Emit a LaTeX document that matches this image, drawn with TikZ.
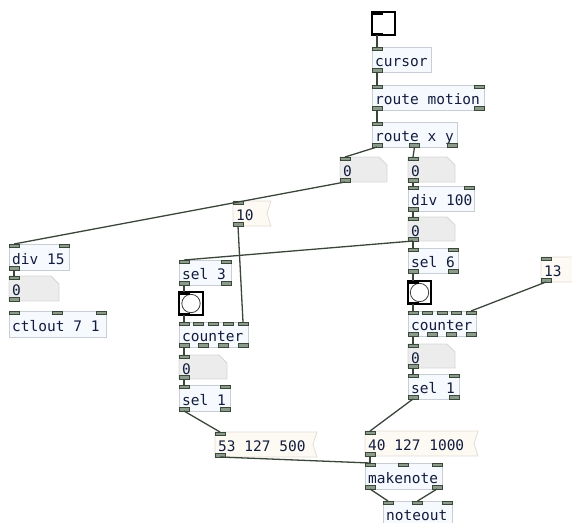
\documentclass[tikz,border=0pt]{standalone}
\usepackage{fontspec}
\newfontfamily\pdfont{DejaVu Sans Mono}
\definecolor{objfill}{RGB}{246,249,253}
\definecolor{objline}{RGB}{200,206,212}
\definecolor{numfill}{RGB}{236,236,236}
\definecolor{numline}{RGB}{214,214,214}
\definecolor{msgfill}{RGB}{253,249,243}
\definecolor{msgline}{RGB}{226,222,214}
\definecolor{portfill}{RGB}{140,154,140}
\definecolor{portline}{RGB}{58,72,58}
\definecolor{wirecol}{RGB}{58,70,58}
\definecolor{txtcol}{RGB}{18,28,62}
\tikzset{
  pdtext/.style={font=\pdfont\fontsize{14.5}{16}\selectfont, text=txtcol, inner sep=0pt},
  objbox/.style={draw=objline, fill=objfill, line width=0.8pt},
  numbox/.style={draw=numline, fill=numfill, line width=0.8pt},
  msgbox/.style={draw=msgline, fill=msgfill, line width=0.8pt},
  port/.style={draw=portline, fill=portfill, line width=0.7pt},
  iemport/.style={draw=black, fill=black, line width=0.3pt},
  iembox/.style={draw=black, fill=white, line width=1.8pt},
  bngcirc/.style={draw=black!75, line width=0.8pt},
  wire/.style={draw=wirecol, line width=1.3pt},
}
% ports: #1 style, #2 name, #3 x, #4 y, #5 w, #6 h, #7 nin, #8 nout, height given by \porth
\newcommand\porth{3.5}
\newcommand\pdports[8]{%
  \ifnum#7>0
    \foreach \k in {1,...,#7}{%
      \ifnum#7=1 \pgfmathsetmacro\px{#3}\else\pgfmathsetmacro\px{#3+(#5-10)*(\k-1)/(#7-1)}\fi
      \path[#1] (\px,#4) rectangle ++(10,\porth);
      \coordinate (#2-i\k) at ({\px+5},#4);
    }%
  \fi
  \ifnum#8>0
    \foreach \k in {1,...,#8}{%
      \ifnum#8=1 \pgfmathsetmacro\px{#3}\else\pgfmathsetmacro\px{#3+(#5-10)*(\k-1)/(#8-1)}\fi
      \path[#1] (\px,{#4+#6-\porth}) rectangle ++(10,\porth);
      \coordinate (#2-o\k) at ({\px+5},{#4+#6});
    }%
  \fi
}
% object box: name x y w h text nin nout
\newcommand\pdobj[8]{%
  \draw[objbox] (#2,#3) rectangle ++(#4,#5);
  \node[pdtext, anchor=base west] (#1) at ({#2+3},{#3+#5/2+7}) {#6};
  \pdports{port}{#1}{#2}{#3}{#4}{#5}{#7}{#8}
}
% number box: name x y w h text
\newcommand\pdnum[6]{%
  \draw[numbox] (#2,#3) -- ({#2+#4-8},#3) -- ({#2+#4},{#3+8}) -- ({#2+#4},{#3+#5}) -- (#2,{#3+#5}) -- cycle;
  \node[pdtext, anchor=base west] (#1) at ({#2+3},{#3+#5/2+7}) {#6};
  \pdports{port}{#1}{#2}{#3}{#4}{#5}{1}{1}
}
% message box: name x y w h text
\newcommand\pdmsg[6]{%
  \draw[msgbox] (#2,#3) -- ({#2+#4},#3) -- ({#2+#4-4},{#3+#5/2}) -- ({#2+#4},{#3+#5}) -- (#2,{#3+#5}) -- cycle;
  \node[pdtext, anchor=base west] (#1) at ({#2+3},{#3+#5/2+7}) {#6};
  \pdports{port}{#1}{#2}{#3}{#4}{#5}{1}{1}
}
% bang: name x y w h
\newcommand\pdbng[5]{%
  \draw[iembox] (#2,#3) rectangle ++(#4,#5);
  \draw[bngcirc] ({#2+#4/2},{#3+#5/2}) circle (9.2);
  {\renewcommand\porth{2}\pdports{iemport}{#1}{#2}{#3}{#4}{#5}{1}{1}}
}
% toggle: name x y w h
\newcommand\pdtgl[5]{%
  \draw[iembox] (#2,#3) rectangle ++(#4,#5);
  {\renewcommand\porth{2}\pdports{iemport}{#1}{#2}{#3}{#4}{#5}{1}{1}}
}
\begin{document}
\begin{tikzpicture}[x=1pt,y=-1pt]
\useasboundingbox (0,0) rectangle (572,522);
% right column
\pdtgl{tog}{372}{12}{23}{23}
\pdobj{cursor}{372}{47}{59}{25}{cursor}{1}{1}
\pdobj{routem}{372}{85}{112}{25}{route motion}{2}{2}
\pdobj{routexy}{372}{122}{85}{25}{route x y}{1}{3}
\pdnum{numA}{340}{157}{47}{25}{0}
\pdnum{numB}{408}{157}{47}{25}{0}
\pdobj{divh}{408}{186}{66}{25}{div 100}{2}{1}
\pdnum{numC}{408}{217}{47}{24}{0}
\pdobj{selsix}{408}{248}{50}{25}{sel 6}{2}{2}
\pdbng{bngR}{408}{281}{23}{23}
\pdobj{cntR}{408}{311}{68}{25}{counter}{5}{4}
\pdnum{numD}{408}{344}{47}{24}{0}
\pdobj{seloneR}{408}{374}{51}{25}{sel 1}{2}{2}
\pdmsg{msgt}{541}{257}{38}{25}{13}
% left part
\pdmsg{msgten}{233}{201}{38}{25}{10}
\pdobj{divf}{9}{244}{60}{26}{div 15}{2}{1}
\pdnum{numE}{9}{276}{50}{25}{0}
\pdobj{ctl}{9}{311}{97}{26}{ctlout 7 1}{3}{0}
\pdobj{selthree}{179}{260}{52}{25}{sel 3}{2}{2}
\pdbng{bngL}{179}{292}{24}{23}
\pdobj{cntL}{179}{322}{69}{25}{counter}{5}{4}
\pdnum{numF}{179}{355}{48}{24}{0}
\pdobj{seloneL}{179}{385}{51}{26}{sel 1}{2}{2}
% bottom
\pdmsg{msgA}{215}{432}{102}{25}{53 127 500}
\pdmsg{msgB}{365}{431}{113}{25}{40 127 1000}
\pdobj{mk}{365}{463}{77}{26}{makenote}{3}{2}
\pdobj{nout}{383}{501}{69}{25}{noteout}{3}{0}
% wires
\draw[wire] (tog-o1) -- (cursor-i1);
\draw[wire] (cursor-o1) -- (routem-i1);
\draw[wire] (routem-o1) -- (routexy-i1);
\draw[wire] (routexy-o1) -- (numA-i1);
\draw[wire] (routexy-o2) -- (numB-i1);
\draw[wire] (numA-o1) -- (divf-i1);
\draw[wire] (numB-o1) -- (divh-i1);
\draw[wire] (divh-o1) -- (numC-i1);
\draw[wire] (numC-o1) -- (selsix-i1);
\draw[wire] (numC-o1) -- (selthree-i1);
\draw[wire] (selsix-o1) -- (bngR-i1);
\draw[wire] (bngR-o1) -- (cntR-i1);
\draw[wire] (msgt-o1) -- (cntR-i5);
\draw[wire] (cntR-o1) -- (numD-i1);
\draw[wire] (numD-o1) -- (seloneR-i1);
\draw[wire] (seloneR-o1) -- (msgB-i1);
\draw[wire] (divf-o1) -- (numE-i1);
\draw[wire] (msgten-o1) -- (cntL-i5);
\draw[wire] (selthree-o1) -- (bngL-i1);
\draw[wire] (bngL-o1) -- (cntL-i1);
\draw[wire] (cntL-o1) -- (numF-i1);
\draw[wire] (numF-o1) -- (seloneL-i1);
\draw[wire] (seloneL-o1) -- (msgA-i1);
\draw[wire] (msgA-o1) -- (mk-i1);
\draw[wire] (msgB-o1) -- (mk-i1);
\draw[wire] (mk-o1) -- (nout-i1);
\draw[wire] (mk-o2) -- (nout-i2);
\end{tikzpicture}
\end{document}
